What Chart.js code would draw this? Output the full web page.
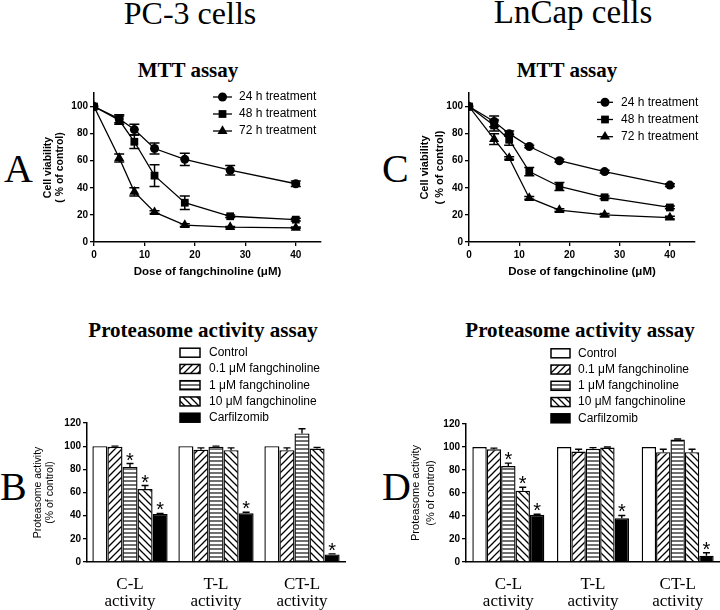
<!DOCTYPE html>
<html>
<head>
<meta charset="utf-8">
<title>Fangchinoline MTT and proteasome assays</title>
<script src="https://cdn.jsdelivr.net/npm/chart.js@4.4.1/dist/chart.umd.min.js"></script>
<style>
  body { margin: 0; background: #fff; }
  #fig { position: relative; width: 720px; height: 610px; overflow: hidden; background: #fff; }
  .t { position: absolute; line-height: 1; white-space: nowrap; color: #000;
       font-family: "Liberation Serif", "Times New Roman", serif; }
  .b { font-weight: bold; }
  .c { transform: translateX(-50%); }
  canvas { position: absolute; }
</style>
</head>
<body>
<div id="fig">
  <div class="t c" style="font-size:32px; left:190px; top:-3.3px">PC-3 cells</div>
  <div class="t c" style="font-size:33px; left:573px; top:-4.1px">LnCap cells</div>
  <div class="t c b" style="font-size:21px; left:188px; top:60.4px">MTT assay</div>
  <div class="t c b" style="font-size:21px; left:567px; top:60.4px">MTT assay</div>
  <div class="t c b" style="font-size:21px; left:203px; top:320px">Proteasome activity assay</div>
  <div class="t c b" style="font-size:21px; left:580px; top:320px">Proteasome activity assay</div>
  <div class="t" style="font-size:40px; left:4px; top:148.5px">A</div>
  <div class="t" style="font-size:40px; left:382px; top:148.5px">C</div>
  <div class="t" style="font-size:40px; left:0px; top:466.5px">B</div>
  <div class="t" style="font-size:40px; left:382px; top:466.5px">D</div>

  <canvas id="mttPC3" width="360" height="215" style="left:0; top:85px"></canvas>
  <canvas id="mttLNCaP" width="360" height="215" style="left:360px; top:85px"></canvas>
  <canvas id="protPC3" width="360" height="270" style="left:0; top:340px"></canvas>
  <canvas id="protLNCaP" width="360" height="270" style="left:360px; top:340px"></canvas>
</div>

<script>
// ---- MTT data (cell viability, % of control) ----
const doses = [0, 5, 8, 12, 18, 27, 40];
const seriesNames = ['24 h treatment', '48 h treatment', '72 h treatment'];

const pc3_24h = [100, 91, 83, 69, 61, 53, 43];
const pc3_48h = [100, 90, 74, 49, 29, 19, 16.5];
const pc3_72h = [100, 62, 37, 22, 12.5, 11, 10.5];
const pc3_24hErr = [0, 3, 4, 4, 4.5, 3.5, 2];
const pc3_48hErr = [0, 3, 5, 8, 5, 1, 1];
const pc3_72hErr = [0, 3, 3, 1, 1, 0.5, 0.5];

const lncap_24h = [100, 89, 80, 70.5, 60, 52, 42];
const lncap_48h = [100, 86, 75.5, 52, 41, 33, 25.5];
const lncap_72h = [100, 76, 62, 32.5, 23.5, 20, 18];
const lncap_24hErr = [0, 4, 2, 1, 1, 1, 1];
const lncap_48hErr = [0, 4, 4, 3, 3, 1, 1];
const lncap_72hErr = [0, 4, 1, 1, 1, 1, 1];

// ---- proteasome data (% of control) ----
const activities = [['C-L', 'activity'], ['T-L', 'activity'], ['CT-L', 'activity']];
const treatments = ['Control', '0.1 μM fangchinoline', '1 μM fangchinoline', '10 μM fangchinoline', 'Carfilzomib'];

const pc3Control = [100, 100, 100];
const pc3Fang01 = [99.5, 97, 96.5];
const pc3Fang1 = [82, 99.5, 111];
const pc3Fang10 = [63, 96.5, 98];
const pc3Carf = [41.5, 42, 6.5];
const pc3Err = [[0, 0, 0], [0.5, 1.5, 2], [3, 0.5, 4], [3, 2, 1], [0.5, 1, 0.5]];

const lncapControl = [100, 100, 100];
const lncapFang01 = [98, 96, 95.5];
const lncapFang1 = [83.5, 98.5, 106.5];
const lncapFang10 = [62, 99.5, 95.5];
const lncapCarf = [41, 38, 5.5];
const lncapErr = [[0, 0, 0], [1, 2, 2.5], [2.5, 1, 0.5], [3, 0.5, 2.5], [0.5, 2.5, 2.5]];

// significance marks (*) per treatment
const starFlags = [[0, 0, 0], [0, 0, 0], [1, 0, 0], [1, 0, 0], [1, 1, 1]];

Chart.defaults.font.family = '"Liberation Sans", Arial, sans-serif';
Chart.defaults.color = '#000';
Chart.defaults.animation = false;

const SANS = '"Liberation Sans", Arial, sans-serif';

// hatch fills like the GraphPad bars
function hatch(kind) {
    const c = document.createElement('canvas');
    const n = kind === 'h' ? 4 : 7;
    c.width = n; c.height = n;
    const g = c.getContext('2d');
    g.fillStyle = '#fff';
    g.fillRect(0, 0, n, n);
    g.strokeStyle = kind === 'h' ? '#333' : '#000';
    g.lineWidth = kind === 'h' ? 1.4 : 1.3;
    g.beginPath();
    if (kind === 'h') {
        g.moveTo(0, 1); g.lineTo(n, 1);
    } else if (kind === '/') {
        g.moveTo(-1, n + 1); g.lineTo(n + 1, -1);
        g.moveTo(-1, 1); g.lineTo(1, -1);
        g.moveTo(n - 1, n + 1); g.lineTo(n + 1, n - 1);
    } else {
        g.moveTo(-1, -1); g.lineTo(n + 1, n + 1);
        g.moveTo(n - 1, -1); g.lineTo(n + 1, 1);
        g.moveTo(-1, n - 1); g.lineTo(1, n + 1);
    }
    g.stroke();
    return g.createPattern(c, 'repeat');
}
const barFills = ['#fff', hatch('/'), hatch('h'), hatch('\\'), '#000'];

// error bars + significance stars, positioned through the y scale
const errorBarPlugin = {
    id: 'errorBars',
    afterDatasetsDraw(chart, args, opts) {
        const ctx = chart.ctx;
        const yScale = chart.scales.y;
        ctx.save();
        ctx.strokeStyle = '#000';
        ctx.fillStyle = '#000';
        ctx.lineWidth = opts.lineWidth || 1.5;
        chart.data.datasets.forEach((ds, di) => {
            const meta = chart.getDatasetMeta(di);
            meta.data.forEach((el, j) => {
                const raw = ds.data[j];
                const v = typeof raw === 'object' ? raw.y : raw;
                const e = ds.errors ? ds.errors[j] : 0;
                const top = yScale.getPixelForValue(v + e);
                if (e) {
                    const bot = yScale.getPixelForValue(opts.upOnly ? v : v - e);
                    ctx.beginPath();
                    ctx.moveTo(el.x, bot); ctx.lineTo(el.x, top);
                    ctx.moveTo(el.x - opts.cap, top); ctx.lineTo(el.x + opts.cap, top);
                    if (!opts.upOnly) {
                        ctx.moveTo(el.x - opts.cap, bot); ctx.lineTo(el.x + opts.cap, bot);
                    }
                    ctx.stroke();
                }
                if (ds.stars && ds.stars[j]) {
                    ctx.font = '20px ' + SANS;
                    ctx.textAlign = 'center';
                    ctx.textBaseline = 'alphabetic';
                    const m = ctx.measureText('*');
                    const cy = top - 7;
                    ctx.fillText('*', el.x, cy + (m.actualBoundingBoxAscent - m.actualBoundingBoxDescent) / 2);
                }
            });
        });
        ctx.restore();
    }
};

// small key drawn inside the plot, GraphPad style
const keyPlugin = {
    id: 'key',
    afterDraw(chart, args, o) {
        const ctx = chart.ctx;
        ctx.save();
        ctx.font = '12px ' + SANS;
        ctx.textBaseline = 'middle';
        ctx.textAlign = 'left';
        ctx.strokeStyle = '#000';
        chart.data.datasets.forEach((ds, i) => {
            const y = o.y + i * o.step;
            ctx.fillStyle = '#000';
            if (o.kind === 'line') {
                ctx.lineWidth = 1.3;
                ctx.beginPath(); ctx.moveTo(o.x1, y); ctx.lineTo(o.x2, y); ctx.stroke();
                Chart.helpers.drawPoint(ctx, { pointStyle: ds.pointStyle, radius: ds.pointRadius, rotation: 0, borderWidth: 0 }, (o.x1 + o.x2) / 2, y);
            } else {
                ctx.fillStyle = ds.backgroundColor;
                ctx.fillRect(o.x1, y - o.boxH / 2, o.boxW, o.boxH);
                ctx.lineWidth = 1.5;
                ctx.strokeRect(o.x1, y - o.boxH / 2, o.boxW, o.boxH);
                ctx.fillStyle = '#000';
            }
            ctx.fillText(ds.label, o.textX, y);
        });
        ctx.restore();
    }
};

// axis runs past the last labelled tick (to 45 / 110) without a tick there
const dropTicksAbove = lim => s => { s.ticks = s.ticks.filter(t => t.value <= lim); };

function buildMtt(canvasId, series, errs, lay) {
    const styles = ['circle', 'rect', 'triangle'];
    const radii = [4.5, 5.5, 5.8];
    return new Chart(document.getElementById(canvasId), {
        type: 'scatter',
        plugins: [errorBarPlugin, keyPlugin],
        data: {
            datasets: series.map((vals, i) => ({
                label: seriesNames[i],
                data: doses.map((d, j) => ({ x: d, y: vals[j] })),
                errors: errs[i],
                showLine: true,
                borderColor: '#000',
                backgroundColor: '#000',
                borderWidth: 1.3,
                pointStyle: styles[i],
                pointRadius: radii[i],
                pointBorderWidth: 0,
                pointBackgroundColor: '#000'
            }))
        },
        options: {
            responsive: false,
            layout: { padding: lay.padding },
            plugins: {
                legend: { display: false },
                tooltip: { enabled: false },
                errorBars: { cap: 5, lineWidth: 1.5 },
                key: lay.key
            },
            scales: {
                x: {
                    type: 'linear', min: 0, max: 45, bounds: 'data',
                    ticks: { stepSize: 10, padding: 3, font: { size: 10, weight: 'bold' } },
                    afterBuildTicks: dropTicksAbove(40),
                    grid: { drawOnChartArea: false, color: '#000', lineWidth: 1.3, tickLength: 4 },
                    border: { color: '#000', width: 1.5 },
                    title: { display: true, text: 'Dose of fangchinoline (μM)', font: { size: 11.5, weight: 'bold', lineHeight: 1.2 }, padding: { top: 0, bottom: 8 } },
                    afterFit: s => { s.height = 45; }
                },
                y: {
                    min: 0, max: 110, bounds: 'data',
                    ticks: { stepSize: 20, padding: 2, font: { size: 10, weight: 'bold' } },
                    afterBuildTicks: dropTicksAbove(100),
                    grid: { drawOnChartArea: false, color: '#000', lineWidth: 1.3, tickLength: 4 },
                    border: { color: '#000', width: 1.5 },
                    title: { display: true, text: ['Cell viability', '( % of control)'], font: { size: lay.yTitleSize, weight: 'bold', lineHeight: lay.yTitleLH }, padding: { top: lay.yTitlePad, bottom: 0 } },
                    afterFit: s => { s.width = lay.yWidth; }
                }
            }
        }
    });
}

function buildProteasome(canvasId, groups, errs, lay) {
    return new Chart(document.getElementById(canvasId), {
        type: 'bar',
        plugins: [errorBarPlugin, keyPlugin],
        data: {
            labels: activities,
            datasets: treatments.map((t, i) => ({
                label: t,
                data: groups[i],
                errors: errs[i],
                stars: starFlags[i],
                backgroundColor: barFills[i],
                borderColor: '#000',
                borderWidth: 1.4,
                categoryPercentage: lay.cat,
                barPercentage: 1
            }))
        },
        options: {
            responsive: false,
            layout: { padding: lay.padding },
            plugins: {
                legend: { display: false },
                tooltip: { enabled: false },
                errorBars: { cap: 3.5, lineWidth: 1.4, upOnly: true },
                key: lay.key
            },
            scales: {
                x: {
                    offset: true,
                    grid: { display: false, drawTicks: false },
                    border: { color: '#000', width: 1.5 },
                    ticks: { padding: 14.5, maxRotation: 0, autoSkip: false, font: { family: '"Liberation Serif", "Times New Roman", serif', size: 17, lineHeight: '17px' } },
                    afterFit: s => { s.height = 48; }
                },
                y: {
                    min: 0, max: 120,
                    ticks: { stepSize: 20, padding: 2, font: { size: 10, weight: 'bold' } },
                    grid: { drawOnChartArea: false, color: '#000', lineWidth: 1.3, tickLength: 4 },
                    border: { color: '#000', width: 1.5 },
                    title: { display: true, text: ['Proteasome activity', '(% of control)'], font: { size: lay.yTitleSize, lineHeight: lay.yTitleLH }, padding: { top: lay.yTitlePad, bottom: 0 } },
                    afterFit: s => { s.width = lay.yWidth; }
                }
            }
        }
    });
}

buildMtt('mttPC3', [pc3_24h, pc3_48h, pc3_72h], [pc3_24hErr, pc3_48hErr, pc3_72hErr], {
    padding: { left: 30, right: 39, top: 8, bottom: 13 },
    yWidth: 64, yTitleSize: 10.5, yTitleLH: 1.2, yTitlePad: 11.7,
    key: { kind: 'line', x1: 213, x2: 232, textX: 239, y: 12, step: 17 }
});

buildMtt('mttLNCaP', [lncap_24h, lncap_48h, lncap_72h], [lncap_24hErr, lncap_48hErr, lncap_72hErr], {
    padding: { left: 40, right: 25, top: 8, bottom: 13 },
    yWidth: 69, yTitleSize: 11, yTitleLH: 1.35, yTitlePad: 17.6,
    key: { kind: 'line', x1: 237, x2: 253, textX: 261, y: 17.3, step: 17.2 }
});

buildProteasome('protPC3', [pc3Control, pc3Fang01, pc3Fang1, pc3Fang10, pc3Carf], pc3Err, {
    padding: { left: 25, right: 15, top: 83, bottom: 0 },
    cat: 0.875, yWidth: 62, yTitleSize: 10.5, yTitleLH: 1.2, yTitlePad: 6.7,
    key: { kind: 'box', x1: 180, boxW: 20, boxH: 9, textX: 209, y: 12.7, step: 16.25 }
});

buildProteasome('protLNCaP', [lncapControl, lncapFang01, lncapFang1, lncapFang10, lncapCarf], lncapErr, {
    padding: { left: 40, right: 0, top: 84, bottom: 0 },
    cat: 0.85, yWidth: 66, yTitleSize: 11, yTitleLH: 1.35, yTitlePad: 8.6,
    key: { kind: 'box', x1: 191, boxW: 19, boxH: 9, textX: 218, y: 13.3, step: 16.25 }
});
</script>
</body>
</html>
